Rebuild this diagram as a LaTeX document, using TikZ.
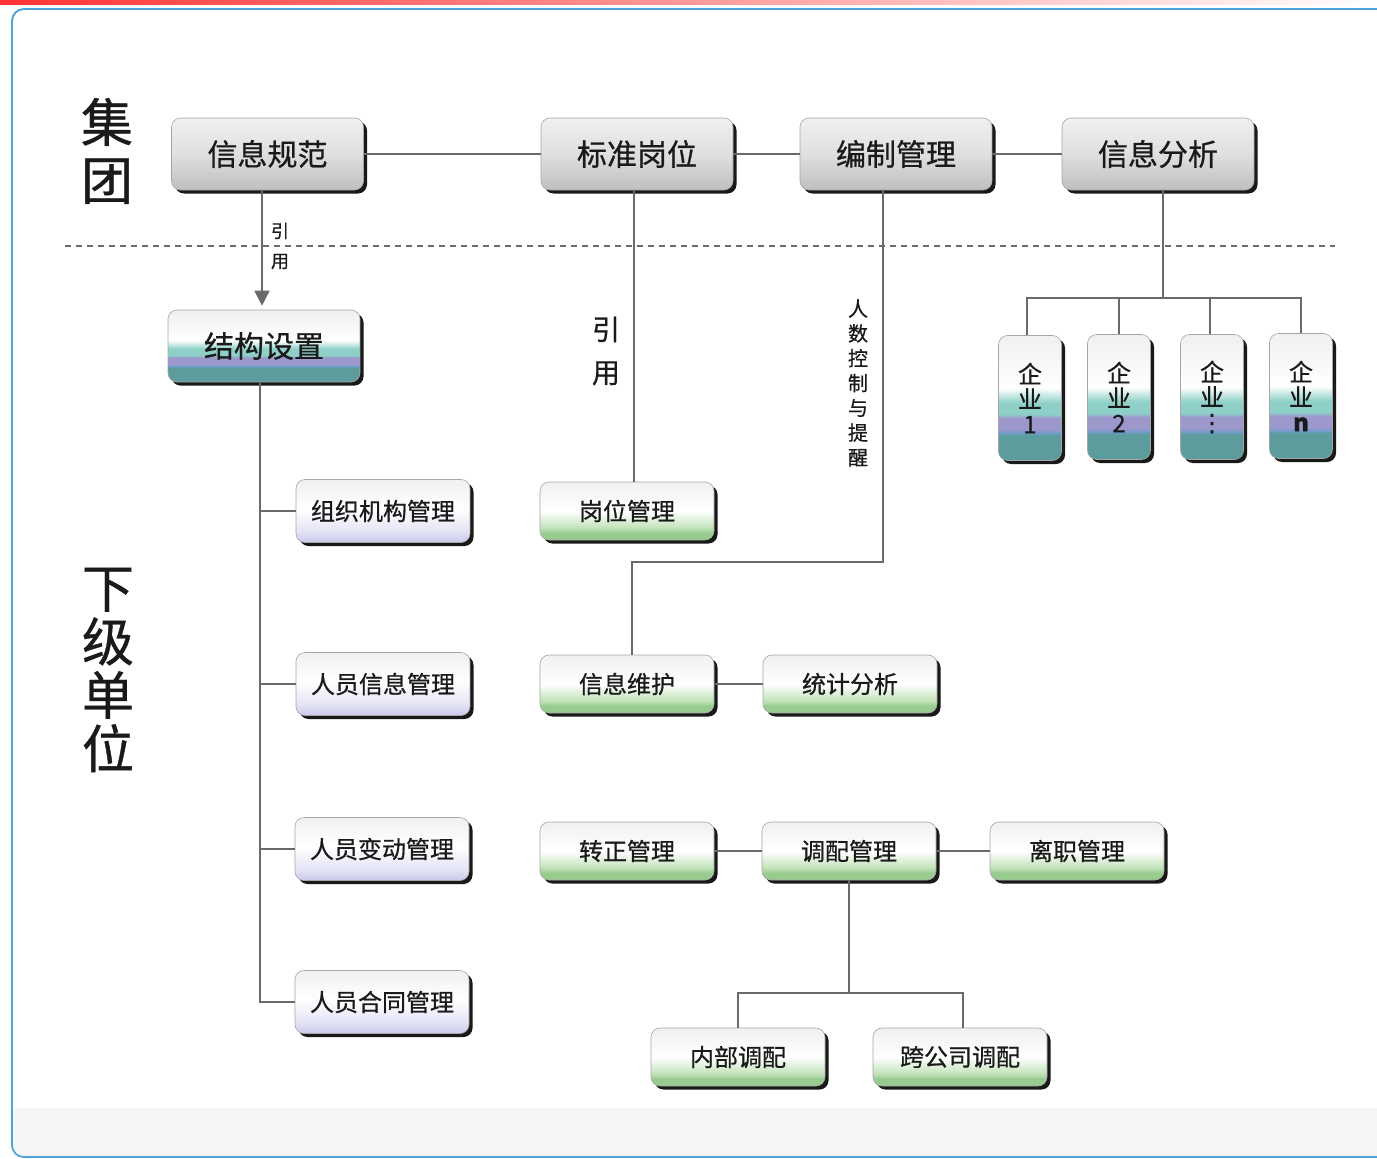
\documentclass[tikz,border=0pt]{standalone}
\usepackage{fontspec}
\setmainfont{Noto Sans CJK SC}[FakeBold=0.7]
\newfontfamily\dejavu{DejaVu Sans}[FakeBold=0.7]
\usetikzlibrary{shadows,arrows.meta,calc}
\definecolor{tealD}{HTML}{5C9C9C}
\definecolor{blueB}{HTML}{6F9CCC}
\definecolor{purp}{HTML}{9D98CC}
\definecolor{tealL}{HTML}{8ED0C8}
\definecolor{grn}{HTML}{98CC8F}
\definecolor{grnL}{HTML}{C4E4BC}
\definecolor{lav}{HTML}{C8C8EA}
\definecolor{lavL}{HTML}{E4E4F6}
\definecolor{topG}{HTML}{F0F0F0}
\definecolor{lineG}{HTML}{6A6A6A}
\definecolor{panelB}{HTML}{4FA3D6}
\definecolor{txt}{HTML}{1A1A1A}
\pgfdeclareverticalshading{bands}{100bp}{color(0bp)=(tealD); color(25bp)=(tealD); color(35bp)=(tealD); color(36bp)=(blueB); color(37.5bp)=(purp); color(42bp)=(purp); color(43.5bp)=(tealL); color(48bp)=(tealL); color(54bp)=(white); color(75bp)=(topG); color(100bp)=(topG)}
\pgfdeclareverticalshading{greenb}{100bp}{color(0bp)=(grn); color(25bp)=(grn); color(31bp)=(grn); color(36bp)=(grnL); color(50bp)=(white); color(75bp)=(topG); color(100bp)=(topG)}
\pgfdeclareverticalshading{lavb}{100bp}{color(0bp)=(lav); color(25bp)=(lav); color(34bp)=(lavL); color(52bp)=(white); color(75bp)=(topG); color(100bp)=(topG)}
\pgfdeclareverticalshading{grayb}{100bp}{color(0bp)=(gray!50); color(25bp)=(gray!50); color(50bp)=(gray!25); color(75bp)=(topG); color(100bp)=(topG)}
\tikzset{
  x=1pt, y=-1pt,
  box/.style={draw=gray!70, line width=0.6pt, rounded corners=9pt, text=txt,
    drop shadow={shadow xshift=3.5pt, shadow yshift=-3.5pt, fill=black!90, opacity=1}},
  topbox/.style={box, shading=grayb, minimum width=192pt, minimum height=72pt, font=\fontsize{30}{30}\selectfont},
  bandbox/.style={box, shading=bands, minimum width=192pt, minimum height=72pt, font=\fontsize{30}{30}\selectfont},
  lavbox/.style={box, shading=lavb, minimum width=174pt, minimum height=63pt, font=\fontsize{24}{24}\selectfont},
  grnbox/.style={box, shading=greenb, minimum width=174pt, minimum height=58pt, font=\fontsize{24}{24}\selectfont},
  qybox/.style={box, shading=bands, minimum width=63pt, minimum height=125pt, align=center, font=\fontsize{24}{25}\selectfont},
  conn/.style={draw=lineG, line width=1.6pt},
  lbl/.style={align=center, text=txt, inner sep=0pt}
}
\begin{document}
\begin{tikzpicture}
\useasboundingbox (0,0) rectangle (1377,1159);
% background
\fill[white] (0,0) rectangle (1377,1159);
\shade[left color=red!80, right color=white] (0,0) rectangle (1377,4.5);
\filldraw[fill=white, draw=panelB, line width=1.6pt, rounded corners=12pt] (12,9) rectangle (1400,1157);
\fill[gray!7] (13,1108) rectangle (1377,1156);
\draw[panelB, line width=1.6pt, rounded corners=12pt] (1400,9) -- (12,9) -- (12,1157) -- (1400,1157);

% side labels
\node[lbl, font=\fontsize{52}{58}\selectfont] (jt) at (107,151) {集\\团};
\node[lbl, font=\fontsize{52}{53.5}\selectfont] (xjdw) at (108,670) {下\\级\\单\\位};

% dashed separator
\coordinate (dl) at (65,246);
\coordinate (dr) at (1335,246);
\draw[draw=lineG, line width=1.2pt, dash pattern=on 6pt off 5pt] (dl) -- (dr);

% top boxes
\node[topbox] (xxgf) at (267.5,154) {信息规范};
\node[topbox] (bzgw) at (637,154) {标准岗位};
\node[topbox] (bzgl) at (896,154) {编制管理};
\node[topbox] (xxfx) at (1158,154) {信息分析};

% structure
\node[bandbox] (jgsz) at (264,346) {结构设置};

\node[lavbox] (zzjg) at (383,511) {组织机构管理};
\node[lavbox] (ryxx) at (383,684) {人员信息管理};
\node[lavbox] (rybd) at (382,849) {人员变动管理};
\node[lavbox] (ryht) at (382,1002) {人员合同管理};

\node[grnbox] (gwgl) at (627,511) {岗位管理};
\node[grnbox] (xxwh) at (627,684) {信息维护};
\node[grnbox] (tjfx) at (850,684) {统计分析};
\node[grnbox] (zzgl) at (627,851) {转正管理};
\node[grnbox] (dpgl) at (849,851) {调配管理};
\node[grnbox] (lzgl) at (1077,851) {离职管理};
\node[grnbox] (nbdp) at (738,1057) {内部调配};
\node[grnbox] (kgs) at (960,1057) {跨公司调配};

\node[qybox] (q1) at (1030,398) {企\\业\\1};
\node[qybox] (q2) at (1119,397) {企\\业\\2};
\node[qybox] (q3) at (1212,397) {企\\业\\{\dejavu ⋮}};
\node[qybox] (q4) at (1301,396) {企\\业\\\textbf{n}};

% labels on connectors
\node[lbl, font=\fontsize{18}{30}\selectfont] (yy1) at (280,246) {引\\用};
\node[lbl, font=\fontsize{28}{43}\selectfont] (yy2) at (606,351) {引\\用};
\node[lbl, font=\fontsize{20}{24.8}\selectfont] (rskz) at (858,383) {人\\数\\控\\制\\与\\提\\醒};

% connectors top row
\draw[conn] (xxgf.east) -- (bzgw.west);
\draw[conn] (bzgw.east) -- (bzgl.west);
\draw[conn] (bzgl.east) -- (xxfx.west);

% arrow to 结构设置
\draw[conn, -{Triangle[length=15pt,width=15pt]}] ([xshift=-2pt]jgsz.north |- xxgf.south) -- ([xshift=-2pt,yshift=4pt]jgsz.north);

% trunk from 结构设置
\draw[conn] ([xshift=-4pt]jgsz.south) |- (zzjg.west);
\draw[conn] ([xshift=-4pt]jgsz.south) |- (ryxx.west);
\draw[conn] ([xshift=-4pt]jgsz.south) |- (rybd.west);
\draw[conn] ([xshift=-4pt]jgsz.south) |- (ryht.west);

% 标准岗位 -> 岗位管理
\draw[conn] ([xshift=-3pt]bzgw.south) -- ([xshift=-3pt]bzgw.south |- gwgl.north);

% 编制管理 -> 信息维护
\coordinate (k1) at (632,562);
\draw[conn] ([xshift=-13pt]bzgl.south) |- (k1) -- (k1 |- xxwh.north);

\draw[conn] (xxwh.east) -- (tjfx.west);
\draw[conn] (zzgl.east) -- (dpgl.west);
\draw[conn] (dpgl.east) -- (lzgl.west);

% 调配管理 -> sub
\coordinate (d1) at (849,993);
\draw[conn] (dpgl.south) -- (d1);
\draw[conn] (nbdp.north) |- (d1) -| ([xshift=3pt]kgs.north);

% 信息分析 -> 企业
\coordinate (q0) at (1163,298);
\draw[conn] ([xshift=5pt]xxfx.south) -- (q0);
\draw[conn] ([xshift=-3pt]q1.north) |- (q0) -| (q4.north);
\draw[conn] (q2.north) -- (q2.north |- q0);
\draw[conn] ([xshift=-2pt]q3.north) -- ([xshift=-2pt]q3.north |- q0);
\end{tikzpicture}
\end{document}
